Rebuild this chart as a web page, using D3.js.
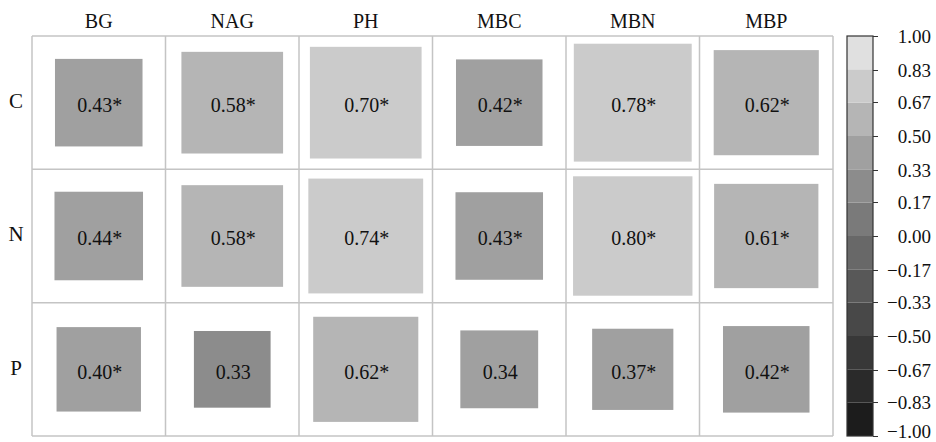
<!DOCTYPE html>
<html><head><meta charset="utf-8">
<script src="https://cdn.jsdelivr.net/npm/d3@7/dist/d3.min.js"></script>
<style>body{margin:0;background:#fff;} svg{display:block;} svg text{font-family:"Liberation Serif","Times New Roman",serif;}</style>
</head><body>
<svg id="chart" width="936" height="442"></svg>
<script>
const rowLabels = ["C", "N", "P"];
const colLabels = ["BG", "NAG", "PH", "MBC", "MBN", "MBP"];
const valuesC = [0.43, 0.58, 0.70, 0.42, 0.78, 0.62];
const valuesN = [0.44, 0.58, 0.74, 0.43, 0.80, 0.61];
const valuesP = [0.40, 0.33, 0.62, 0.34, 0.37, 0.42];
const sigC = [true, true, true, true, true, true];
const sigN = [true, true, true, true, true, true];
const sigP = [true, false, true, false, true, true];
const colorbarTicks = [1.00, 0.83, 0.67, 0.50, 0.33, 0.17, 0.00, -0.17, -0.33, -0.50, -0.67, -0.83, -1.00];
const grayLevels = ["#1c1c1c", "#2a2a2a", "#383838", "#484848", "#585858", "#686868",
                    "#7a7a7a", "#8c8c8c", "#a0a0a0", "#b5b5b5", "#cbcbcb", "#e0e0e0"];

(function () {
const values = [valuesC, valuesN, valuesP];
const sigs = [sigC, sigN, sigP];
const cells = [];
rowLabels.forEach((r, i) => colLabels.forEach((c, j) => cells.push({row: r, col: c, v: values[i][j], sig: sigs[i][j]})));

const svg = d3.select("#chart");
const font = '"Liberation Serif", "Times New Roman", serif';
const gLeft = 32, gRight = 833, gTop = 36, gBottom = 436;

const x = d3.scaleBand().domain(colLabels).range([gLeft, gRight]);
const y = d3.scaleBand().domain(rowLabels).range([gTop, gBottom]);
const color = d3.scaleQuantize().domain([-1, 1]).range(grayLevels);
const side = d3.scaleSqrt().domain([0, 1]).range([0, x.bandwidth()]);

const g = svg.append("g");
g.selectAll("rect.sq").data(cells).join("rect")
  .attr("class", "sq")
  .attr("x", d => x(d.col) + x.bandwidth() / 2 - side(Math.abs(d.v)) / 2)
  .attr("y", d => y(d.row) + y.bandwidth() / 2 - side(Math.abs(d.v)) / 2)
  .attr("width", d => side(Math.abs(d.v)))
  .attr("height", d => side(Math.abs(d.v)))
  .attr("fill", d => color(d.v));

const gridColor = "#c4c4c4";
const xs = colLabels.map(c => x(c)).concat([gRight]);
const ys = rowLabels.map(r => y(r)).concat([gBottom]);
g.selectAll("line.v").data(xs).join("line").attr("class", "v")
  .attr("x1", d => d).attr("x2", d => d).attr("y1", gTop).attr("y2", gBottom)
  .attr("stroke", gridColor).attr("stroke-width", 1.5);
g.selectAll("line.h").data(ys).join("line").attr("class", "h")
  .attr("y1", d => d).attr("y2", d => d).attr("x1", gLeft).attr("x2", gRight)
  .attr("stroke", gridColor).attr("stroke-width", 1.5);

g.selectAll("text.val").data(cells).join("text").attr("class", "val")
  .attr("x", d => x(d.col) + x.bandwidth() / 2 + 1)
  .attr("y", d => y(d.row) + y.bandwidth() / 2)
  .attr("dy", "0.47em")
  .attr("text-anchor", "middle")
  .style("font-family", font).style("font-size", "20px").attr("fill", "#111")
  .text(d => d.v.toFixed(2) + (d.sig ? "*" : ""));

svg.selectAll("text.col").data(colLabels).join("text").attr("class", "col")
  .attr("x", d => x(d) + x.bandwidth() / 2)
  .attr("y", 28)
  .attr("text-anchor", "middle")
  .style("font-family", font).style("font-size", "20px").attr("fill", "#111")
  .text(d => d);

svg.selectAll("text.row").data(rowLabels).join("text").attr("class", "row")
  .attr("x", 16)
  .attr("y", d => y(d) + y.bandwidth() / 2)
  .attr("dy", "0.25em")
  .attr("text-anchor", "middle")
  .style("font-family", font).style("font-size", "21px").attr("fill", "#111")
  .text(d => d);

const cbX = 847, cbW = 26;
const cy = d3.scaleLinear().domain([-1, 1]).range([gBottom, gTop]);
const bins = grayLevels.map((c, i) => ({c, lo: -1 + i * 2 / 12, hi: -1 + (i + 1) * 2 / 12}));
const cb = svg.append("g");
cb.selectAll("rect").data(bins).join("rect")
  .attr("x", cbX).attr("width", cbW)
  .attr("y", d => cy(d.hi)).attr("height", d => cy(d.lo) - cy(d.hi))
  .attr("fill", d => d.c);
cb.append("rect").attr("x", cbX).attr("y", gTop).attr("width", cbW).attr("height", gBottom - gTop)
  .attr("fill", "none").attr("stroke", "#333").attr("stroke-width", 1.2);
const axis = d3.axisRight(cy).tickValues(colorbarTicks).tickSize(5).tickPadding(4)
  .tickFormat(d => (d < 0 ? "\u2212" : "") + Math.abs(d).toFixed(2));
const ax = svg.append("g").attr("transform", `translate(${cbX + cbW},0)`).call(axis);
ax.attr("font-family", null).attr("font-size", null);
ax.select(".domain").remove();
ax.selectAll("line").attr("stroke", "#333");
ax.selectAll("text")
  .attr("x", 931 - (cbX + cbW)).attr("text-anchor", "end")
  .attr("dy", d => d === -1 ? "0.1em" : "0.32em")
  .style("font-family", font).style("font-size", "19px").attr("fill", "#111");
})();
</script>
</body></html>
